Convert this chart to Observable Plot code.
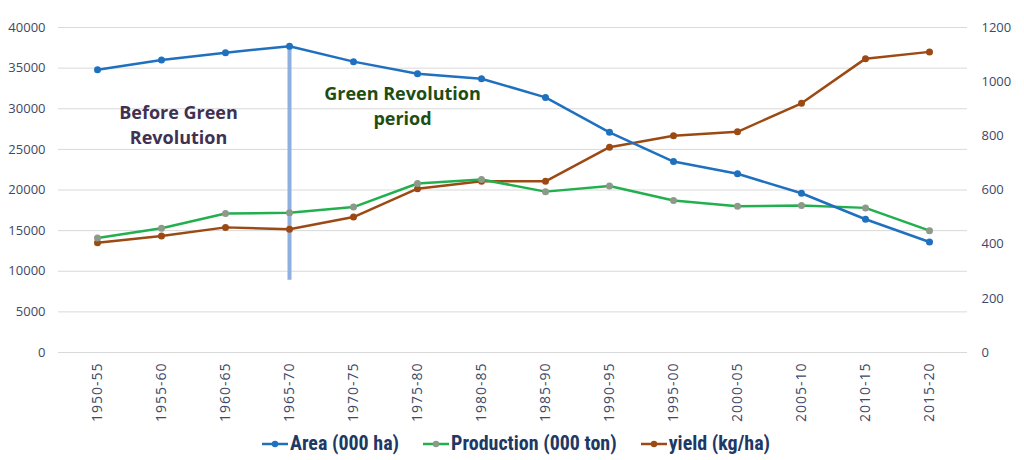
<!DOCTYPE html>
<html><head><meta charset="utf-8">
<script src="https://cdn.jsdelivr.net/npm/d3@7"></script>
<script src="https://cdn.jsdelivr.net/npm/@observablehq/plot@0.6"></script>
<style>
body{margin:0;background:#fff;font-family:"Open Sans",sans-serif;}
#chart svg{display:block;}
#chart g[aria-label="x-axis tick label"] text{letter-spacing:1px;}
#legend{display:flex;justify-content:center;align-items:center;gap:24px;margin-top:2px;margin-left:8px;font-family:"Liberation Sans Narrow","Roboto Condensed",Roboto,sans-serif;font-weight:bold;font-size:20px;line-height:27px;color:#203864;}
#legend span{display:flex;align-items:center;gap:2px;}
</style></head><body><div id="chart"></div><div id="legend"></div><script>
const periods = ["1950-55","1955-60","1960-65","1965-70","1970-75","1975-80","1980-85","1985-90","1990-95","1995-00","2000-05","2005-10","2010-15","2015-20"];
const area = [34800,36000,36900,37700,35800,34300,33700,31400,27100,23500,22000,19600,16400,13600];
const production = [14100,15300,17100,17200,17900,20800,21300,19800,20500,18700,18000,18100,17800,15000];
const yieldKgHa = [405,430,462,455,500,605,632,632,758,800,815,920,1085,1110];
const leftTicks = [0,5000,10000,15000,20000,25000,30000,35000,40000];
const rightTicks = [0,200,400,600,800,1000,1200];
const seriesNames = ["Area (000 ha)","Production (000 ton)","yield (kg/ha)"];
const annotations = [
  {text:"Before Green\nRevolution", period:"1955-60", value:28200},
  {text:"Green Revolution\nperiod", period:"1975-80", value:30500}
];
const dividerPeriod = "1965-70";
const dividerRange = [8900, 37700];

const RATIO = 40000/1200;
const tickColor = "#3d4966";
const colors = {area:"#1f70bf", prod:"#22b04f", prodDot:"#8c9a8a", yld:"#9c4a14"};

const rows = periods.map((p,i)=>({period:p, area:area[i], production:production[i], yieldKgHa:yieldKgHa[i], yScaled:yieldKgHa[i]*RATIO}));

const chart = Plot.plot({
  width:1024, height:428,
  marginTop:27, marginBottom:76, marginLeft:58, marginRight:57,
  style:{fontFamily:"'Open Sans',sans-serif", fontSize:"13px", color:tickColor},
  x:{type:"point", domain:periods, padding:0.5},
  y:{domain:[0,40000]},
  marks:[
    Plot.ruleY(leftTicks,{stroke:"#d9d9d9", strokeWidth:1}),
    Plot.axisY({ticks:leftTicks, tickSize:0, tickPadding:13, tickFormat:d=>String(d), label:null, fill:tickColor}),
    Plot.axisY({anchor:"right", ticks:rightTicks.map(v=>v*RATIO), tickFormat:d=>String(Math.round(d/RATIO)), tickSize:0, tickPadding:14, label:null, fill:tickColor, textAnchor:"start"}),
    Plot.axisX({tickRotate:-90, tickSize:0, tickPadding:10, label:null, fill:tickColor, fontSize:14}),
    Plot.ruleX([dividerPeriod],{y1:dividerRange[0], y2:dividerRange[1], stroke:"#8eb0e0", strokeWidth:4}),
    Plot.line(rows,{x:"period", y:"yScaled", stroke:colors.yld, strokeWidth:2.5}),
    Plot.dot(rows,{x:"period", y:"yScaled", fill:colors.yld, r:3.5}),
    Plot.line(rows,{x:"period", y:"production", stroke:colors.prod, strokeWidth:2.5}),
    Plot.dot(rows,{x:"period", y:"production", fill:colors.prodDot, r:3.5}),
    Plot.line(rows,{x:"period", y:"area", stroke:colors.area, strokeWidth:2.5}),
    Plot.dot(rows,{x:"period", y:"area", fill:colors.area, r:3.5}),
    Plot.text([annotations[0]],{x:"period", y:"value", text:"text", dx:17, fill:"#403152", fontSize:18, fontWeight:"bold", lineHeight:1.4}),
    Plot.text([annotations[1]],{x:"period", y:"value", text:"text", dx:-15, fill:"#1e4d12", fontSize:18, fontWeight:"bold", lineHeight:1.4})
  ]
});
document.getElementById("chart").appendChild(chart);

const legend = document.getElementById("legend");
const swatch = [[colors.area,colors.area],[colors.prod,colors.prodDot],[colors.yld,colors.yld]];
seriesNames.forEach((name,i)=>{
  const s = document.createElement("span");
  s.innerHTML = `<svg width="26" height="10"><line x1="0" x2="26" y1="5" y2="5" stroke="${swatch[i][0]}" stroke-width="2.5"/><circle cx="13" cy="5" r="3.2" fill="${swatch[i][1]}"/></svg>${name}`;
  legend.appendChild(s);
});
</script></body></html>
